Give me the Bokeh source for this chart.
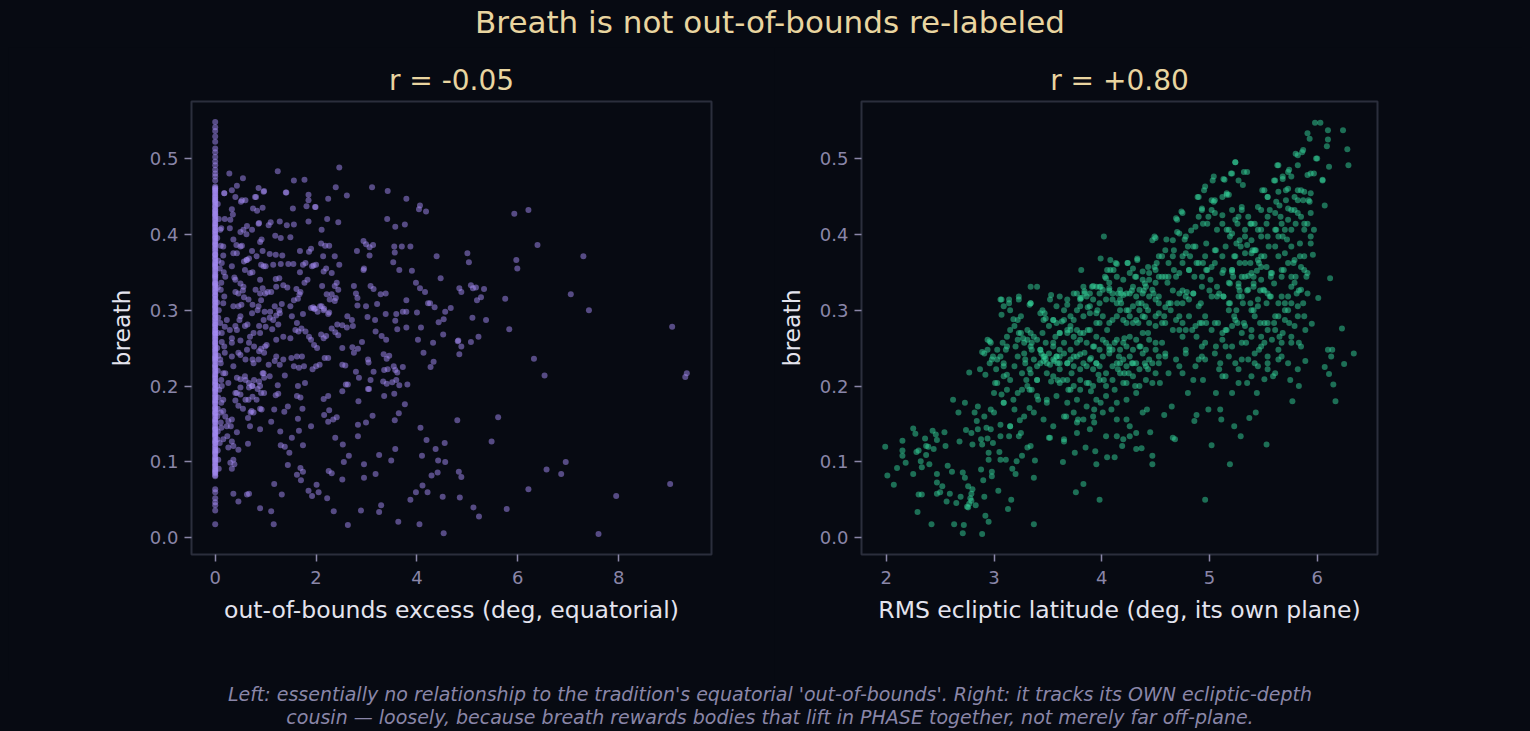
from bokeh.plotting import figure
from bokeh.layouts import column, row
from bokeh.models import Div, FixedTicker, PrintfTickFormatter, Range1d
from bokeh.embed import file_html
from bokeh.resources import INLINE

# ---- data ----
suptitle = "Breath is not out-of-bounds re-labeled"
left_title = "r = -0.05"
right_title = "r = +0.80"
left_xlabel = "out-of-bounds excess (deg, equatorial)"
right_xlabel = "RMS ecliptic latitude (deg, its own plane)"
ylabel = "breath"
footer = ["Left: essentially no relationship to the tradition's equatorial 'out-of-bounds'. Right: it tracks its OWN ecliptic-depth",
          "cousin \u2014 loosely, because breath rewards bodies that lift in PHASE together, not merely far off-plane."]

y_ticks = [0.0, 0.1, 0.2, 0.3, 0.4, 0.5]
left_x_ticks = [0, 2, 4, 6, 8]
right_x_ticks = [2, 3, 4, 5, 6]

# bodies with zero out-of-bounds excess (the bright column at x = 0)
left_column_y = [0.548, 0.541, 0.536, 0.529, 0.522, 0.513, 0.508, 0.502, 0.496, 0.491, 0.485, 0.480, 0.476, 0.471,
                 0.463, 0.461, 0.457, 0.455, 0.451, 0.448, 0.446, 0.443, 0.439, 0.437, 0.433, 0.430, 0.428, 0.425,
                 0.421, 0.419, 0.415, 0.412, 0.410, 0.406, 0.403, 0.401, 0.397, 0.394, 0.390, 0.388, 0.385, 0.381,
                 0.379, 0.374, 0.372, 0.368, 0.366, 0.362, 0.359, 0.356, 0.352, 0.350, 0.346, 0.343, 0.341, 0.336,
                 0.334, 0.331, 0.327, 0.325, 0.321, 0.318, 0.314, 0.312, 0.309, 0.305, 0.302, 0.298, 0.296, 0.293,
                 0.289, 0.287, 0.283, 0.280, 0.278, 0.274, 0.271, 0.269, 0.265, 0.263, 0.259, 0.256, 0.254, 0.250,
                 0.247, 0.245, 0.241, 0.238, 0.235, 0.232, 0.229, 0.226, 0.222, 0.220, 0.216, 0.213, 0.211, 0.207,
                 0.204, 0.201, 0.198, 0.195, 0.192, 0.188, 0.186, 0.182, 0.179, 0.176, 0.173, 0.170, 0.166, 0.164,
                 0.160, 0.157, 0.154, 0.151, 0.148, 0.144, 0.142, 0.138, 0.135, 0.132, 0.129, 0.126, 0.122, 0.120,
                 0.116, 0.113, 0.110, 0.107, 0.104, 0.101, 0.097, 0.095, 0.091, 0.088, 0.085, 0.081,
                 0.064, 0.060, 0.052, 0.047, 0.043, 0.036, 0.018,
                 0.4605, 0.4585, 0.4535, 0.4495, 0.4445, 0.4415, 0.4355, 0.4315, 0.4265, 0.4235, 0.4175, 0.4135,
                 0.4085, 0.4045, 0.3995, 0.3955, 0.3915, 0.3865, 0.3825, 0.3765, 0.3735, 0.3695, 0.3635, 0.3605,
                 0.3575, 0.3535, 0.3475, 0.3445, 0.3385, 0.3355, 0.3325, 0.3285, 0.3235, 0.3195, 0.3155, 0.3105,
                 0.3065, 0.3035, 0.2995, 0.2945, 0.2905, 0.2855, 0.2815, 0.2765, 0.2735, 0.2695, 0.2665, 0.2615,
                 0.2575, 0.2525, 0.2485, 0.2435, 0.2395, 0.2365, 0.2335, 0.2275, 0.2245, 0.2185, 0.2145, 0.2095,
                 0.2055, 0.2025, 0.1965, 0.1935, 0.1895, 0.1845, 0.1805, 0.1775, 0.1715, 0.1685, 0.1645, 0.1615,
                 0.1555, 0.1525, 0.1465, 0.1435, 0.1395, 0.1365, 0.1335, 0.1275, 0.1245, 0.1185, 0.1145, 0.1115,
                 0.1055, 0.1025, 0.0985, 0.0935, 0.0895, 0.0865, 0.0825]

left_points = [
    (4.06, 0.438), (4.04, 0.433), (4.18, 0.430), (3.79, 0.447), (3.42, 0.457), (3.11, 0.462), (2.46, 0.488),
    (5.93, 0.427), (6.21, 0.432), (6.39, 0.386), (7.30, 0.371), (5.97, 0.366), (5.99, 0.355), (5.00, 0.375),
    (5.03, 0.363), (4.39, 0.371), (4.47, 0.342), (7.05, 0.321), (7.41, 0.300), (5.75, 0.315), (5.83, 0.275),
    (9.06, 0.278), (9.35, 0.217), (9.32, 0.212), (6.32, 0.236), (6.53, 0.214), (5.61, 0.159), (5.48, 0.127),
    (6.95, 0.100), (6.57, 0.090), (6.86, 0.084), (6.21, 0.064), (9.02, 0.071), (7.95, 0.055), (5.78, 0.038),
    (7.60, 0.005), (5.12, 0.040), (5.23, 0.028), (4.85, 0.053), (4.83, 0.087), (4.88, 0.080), (4.53, 0.006),
    (4.51, 0.054), (4.41, 0.086), (4.29, 0.082), (4.56, 0.100), (4.42, 0.102), (4.37, 0.117), (4.55, 0.125),
    (4.80, 0.155), (4.19, 0.129), (4.07, 0.145), (4.10, 0.108), (4.11, 0.069), (4.21, 0.060), (3.98, 0.060),
    (3.87, 0.050), (4.05, 0.018), (3.63, 0.021), (4.82, 0.260), (4.88, 0.252), (4.84, 0.242), (5.07, 0.258),
    (5.22, 0.265), (5.10, 0.290), (5.37, 0.287), (4.52, 0.268), (4.53, 0.288), (4.43, 0.284), (4.67, 0.303),
    (4.56, 0.298), (4.35, 0.304), (4.26, 0.309), (4.22, 0.309), (4.84, 0.329), (4.88, 0.324), (5.07, 0.333),
    (5.11, 0.329), (5.19, 0.313), (5.27, 0.317), (5.33, 0.328), (5.17, 0.330), (4.16, 0.324), (4.08, 0.277),
    (4.02, 0.261), (4.13, 0.244), (4.32, 0.257), (4.33, 0.232), (4.27, 0.225), (4.00, 0.297), (3.98, 0.336),
    (4.06, 0.329), (3.90, 0.352), (3.87, 0.384), (4.81, 0.259),
    (2.61, 0.451), (2.39, 0.462), (2.24, 0.447), (2.44, 0.416), (2.22, 0.420), (2.11, 0.406), (1.99, 0.436),
    (1.85, 0.452), (1.85, 0.445), (1.81, 0.437), (1.85, 0.417), (1.77, 0.472), (1.56, 0.471), (1.40, 0.455),
    (1.54, 0.434), (1.24, 0.483), (3.57, 0.410), (3.56, 0.376), (3.55, 0.384), (3.70, 0.384), (3.76, 0.413),
    (3.41, 0.420), (2.81, 0.378), (2.94, 0.391), (2.99, 0.387), (3.06, 0.383), (3.13, 0.386), (3.06, 0.372),
    (3.53, 0.363), (3.65, 0.353), (2.95, 0.355), (2.94, 0.353), (3.08, 0.332), (3.14, 0.328), (3.28, 0.321),
    (3.38, 0.322), (2.75, 0.332), (2.79, 0.322), (2.82, 0.316), (2.82, 0.306), (2.99, 0.305), (3.21, 0.308),
    (3.38, 0.295), (3.59, 0.295), (3.72, 0.298), (3.79, 0.313), (3.79, 0.298), (3.57, 0.286), (3.61, 0.275),
    (3.79, 0.277), (3.02, 0.291), (3.17, 0.287), (3.18, 0.272), (3.30, 0.266), (3.39, 0.261), (2.62, 0.292),
    (2.71, 0.287), (2.73, 0.279), (2.61, 0.277), (2.52, 0.280), (2.46, 0.360), (2.41, 0.336), (2.37, 0.332),
    (2.44, 0.327), (2.39, 0.316), (2.31, 0.321), (2.37, 0.371), (2.31, 0.349), (2.15, 0.351), (2.10, 0.388),
    (2.18, 0.385), (2.26, 0.385), (2.14, 0.371), (2.20, 0.355), (1.95, 0.359), (1.92, 0.358), (2.00, 0.360),
    (2.12, 0.332), (2.21, 0.321), (2.27, 0.314), (2.37, 0.312), (2.11, 0.305), (1.90, 0.303), (1.96, 0.302),
    (2.15, 0.300), (2.26, 0.297), (2.31, 0.276), (2.42, 0.281), (2.38, 0.271), (2.44, 0.267), (2.52, 0.250),
    (2.72, 0.251), (2.83, 0.249), (2.91, 0.258), (2.75, 0.244), (2.79, 0.219), (2.85, 0.211), (3.08, 0.208),
    (3.14, 0.219), (3.04, 0.231), (3.03, 0.235), (3.34, 0.242), (3.45, 0.240), (3.40, 0.236), (3.35, 0.221),
    (3.42, 0.222), (3.54, 0.226), (3.61, 0.218), (3.72, 0.225), (3.57, 0.221), (3.59, 0.208), (3.33, 0.206),
    (3.40, 0.203), (3.51, 0.205), (3.65, 0.201), (3.81, 0.202), (3.55, 0.190), (3.35, 0.187), (2.52, 0.228),
    (2.58, 0.227), (2.63, 0.202), (2.59, 0.202), (2.52, 0.193), (2.84, 0.180), (3.05, 0.196), (3.03, 0.196),
    (3.76, 0.176), (3.64, 0.164), (3.56, 0.155), (3.12, 0.161), (2.99, 0.152), (2.83, 0.149), (2.83, 0.134),
    (2.53, 0.123), (2.38, 0.132), (3.25, 0.109), (3.49, 0.102), (3.57, 0.117), (2.65, 0.108), (2.55, 0.100),
    (2.95, 0.097), (2.95, 0.079), (3.18, 0.084), (2.52, 0.077), (2.35, 0.035), (2.63, 0.017), (2.89, 0.036),
    (3.25, 0.034), (3.29, 0.043), (2.25, 0.088), (2.31, 0.085), (2.41, 0.159), (2.34, 0.156), (2.24, 0.153),
    (2.26, 0.168), (2.16, 0.162), (2.15, 0.183), (2.24, 0.187), (2.05, 0.060), (2.01, 0.070), (2.22, 0.052),
    (0.28, 0.480), (0.55, 0.474), (0.43, 0.464), (0.33, 0.458), (0.18, 0.454), (0.40, 0.449), (0.60, 0.445),
    (0.51, 0.443), (0.86, 0.461), (0.97, 0.457), (0.81, 0.449), (0.75, 0.434), (0.94, 0.435), (0.83, 0.431),
    (0.87, 0.415), (0.33, 0.433), (0.35, 0.426), (0.19, 0.420), (0.29, 0.408), (0.50, 0.403), (0.63, 0.411),
    (0.73, 0.406), (0.62, 0.400), (1.10, 0.416), (1.06, 0.412), (1.28, 0.417), (1.42, 0.412), (1.56, 0.413),
    (1.30, 0.395), (1.49, 0.396), (1.19, 0.398), (0.89, 0.390), (0.73, 0.378), (0.94, 0.378), (1.08, 0.374),
    (1.20, 0.373), (1.33, 0.372), (1.00, 0.358), (0.91, 0.360), (1.15, 0.360), (1.30, 0.361), (1.45, 0.361),
    (1.55, 0.361), (1.68, 0.378), (1.86, 0.377), (1.90, 0.381), (1.79, 0.362), (1.74, 0.360), (1.68, 0.350),
    (1.83, 0.340), (1.77, 0.336), (1.61, 0.328), (1.67, 0.321), (1.56, 0.313), (1.64, 0.315), (1.69, 0.324),
    (0.36, 0.375), (0.42, 0.386), (0.50, 0.384), (0.53, 0.385), (0.57, 0.364), (0.62, 0.366), (0.67, 0.368),
    (0.74, 0.350), (0.59, 0.353), (0.17, 0.350), (0.38, 0.343), (0.50, 0.335), (0.40, 0.324), (0.55, 0.326),
    (0.57, 0.317), (0.46, 0.305), (0.52, 0.307), (0.74, 0.307), (0.89, 0.322), (0.91, 0.313), (0.84, 0.300),
    (1.04, 0.324), (1.11, 0.324), (1.21, 0.331), (1.27, 0.342), (1.20, 0.341), (1.35, 0.333), (1.43, 0.330),
    (0.80, 0.327), (0.94, 0.329), (0.98, 0.298), (1.09, 0.298), (1.18, 0.305), (1.27, 0.300), (1.32, 0.308),
    (1.08, 0.290), (1.15, 0.287), (1.21, 0.293), (1.28, 0.296), (1.49, 0.305), (1.52, 0.292), (1.62, 0.283),
    (1.71, 0.276), (1.74, 0.295), (1.94, 0.304), (1.98, 0.302), (2.03, 0.298), (2.08, 0.305), (2.16, 0.302),
    (2.24, 0.295), (1.25, 0.281), (1.13, 0.275), (1.00, 0.278), (0.87, 0.279), (0.76, 0.270), (0.64, 0.281),
    (0.48, 0.287), (0.40, 0.279), (0.29, 0.274), (0.19, 0.278), (0.33, 0.263), (0.50, 0.260), (0.67, 0.257),
    (0.77, 0.252), (0.91, 0.249), (1.02, 0.254), (1.21, 0.261), (1.35, 0.265), (1.49, 0.263), (1.59, 0.274),
    (1.65, 0.272), (1.79, 0.272), (1.86, 0.265), (1.90, 0.261), (1.96, 0.254), (2.02, 0.250), (2.10, 0.268),
    (2.15, 0.263), (2.20, 0.266), (0.19, 0.244), (0.33, 0.239), (0.50, 0.241), (0.60, 0.235), (0.74, 0.235),
    (0.87, 0.246), (0.97, 0.244), (1.06, 0.228), (1.18, 0.233), (1.35, 0.235), (1.51, 0.237), (1.62, 0.239),
    (1.72, 0.239), (1.76, 0.226), (1.66, 0.224), (1.56, 0.226), (1.28, 0.228), (1.21, 0.239), (1.93, 0.222),
    (2.00, 0.226), (2.07, 0.228), (2.17, 0.237), (2.24, 0.237), (0.12, 0.208), (0.26, 0.204), (0.43, 0.211),
    (0.60, 0.208), (0.67, 0.204), (0.74, 0.200), (0.77, 0.208), (0.87, 0.206), (0.94, 0.217), (0.97, 0.211),
    (1.08, 0.213), (0.91, 0.191), (0.74, 0.186), (0.60, 0.182), (0.43, 0.191), (0.50, 0.198), (0.67, 0.198),
    (0.84, 0.196), (0.97, 0.191), (1.24, 0.201), (1.25, 0.190), (1.20, 0.188), (1.38, 0.214), (1.64, 0.200),
    (1.62, 0.187), (1.69, 0.185), (1.78, 0.204), (1.73, 0.170), (1.64, 0.157), (1.52, 0.132), (1.66, 0.141),
    (1.74, 0.122), (1.44, 0.096), (1.69, 0.092), (1.74, 0.087), (1.62, 0.083), (1.70, 0.076), (1.90, 0.147),
    (1.85, 0.062), (1.92, 0.055), (1.17, 0.071), (1.32, 0.057), (1.11, 0.035), (0.89, 0.039), (1.16, 0.018),
    (1.11, 0.153), (1.17, 0.169), (1.37, 0.166), (1.44, 0.173), (1.29, 0.140), (1.38, 0.120), (1.47, 0.112),
    (1.30, 0.122), (0.65, 0.124), (0.70, 0.165), (0.72, 0.167), (0.65, 0.158), (0.89, 0.143), (0.89, 0.170),
    (0.55, 0.170), (0.40, 0.181), (0.50, 0.189), (0.26, 0.154), (0.31, 0.147), (0.12, 0.145), (0.24, 0.134),
    (0.33, 0.127), (0.26, 0.119), (0.46, 0.116), (0.36, 0.103), (0.38, 0.097), (0.33, 0.091), (0.07, 0.091),
    (0.36, 0.058), (0.46, 0.048), (0.63, 0.057), (0.67, 0.058),
]

# crowd just right of the zero column (x below ~1 deg)
left_halo_points = [
    (0.12, 0.408), (0.11, 0.385), (0.16, 0.372), (0.09, 0.355), (0.12, 0.336), (0.18, 0.318), (0.07, 0.300),
    (0.10, 0.283), (0.13, 0.258), (0.11, 0.230), (0.16, 0.217), (0.08, 0.195), (0.12, 0.178), (0.16, 0.167),
    (0.20, 0.160), (0.11, 0.152), (0.09, 0.125), (0.06, 0.103), (0.05, 0.440), (0.07, 0.420), (0.04, 0.395),
    (0.06, 0.365), (0.05, 0.330), (0.04, 0.310), (0.06, 0.290), (0.05, 0.270), (0.04, 0.250), (0.06, 0.240),
    (0.05, 0.220), (0.04, 0.200), (0.06, 0.185), (0.05, 0.170), (0.04, 0.160), (0.05, 0.140), (0.04, 0.130),
    (0.05, 0.115),
    (0.10, 0.406), (0.16, 0.384), (0.13, 0.362), (0.20, 0.344), (0.11, 0.327), (0.16, 0.309), (0.23, 0.287),
    (0.13, 0.270), (0.18, 0.252), (0.10, 0.235), (0.20, 0.217), (0.13, 0.200), (0.16, 0.182), (0.11, 0.165),
    (0.23, 0.147), (0.16, 0.130), (0.30, 0.419), (0.36, 0.393), (0.43, 0.375), (0.33, 0.358), (0.40, 0.340),
    (0.46, 0.322), (0.36, 0.305), (0.50, 0.292), (0.43, 0.274), (0.33, 0.257), (0.46, 0.244), (0.36, 0.226),
    (0.50, 0.209), (0.40, 0.191), (0.46, 0.174), (0.33, 0.156), (0.43, 0.139), (0.36, 0.121), (0.30, 0.099),
    (0.56, 0.406), (0.63, 0.366), (0.69, 0.349), (0.56, 0.331), (0.66, 0.314), (0.73, 0.296), (0.59, 0.279),
    (0.69, 0.265), (0.63, 0.248), (0.76, 0.230), (0.59, 0.213), (0.73, 0.200), (0.66, 0.182), (0.76, 0.165),
    (0.69, 0.147), (0.86, 0.414), (0.92, 0.393), (0.82, 0.371), (0.96, 0.358), (0.89, 0.340), (0.99, 0.322),
    (0.86, 0.305), (0.96, 0.287), (0.89, 0.270), (0.99, 0.252), (0.86, 0.235), (0.96, 0.217), (0.89, 0.200),
    (0.82, 0.182), (0.92, 0.169), (0.18, 0.454), (0.53, 0.445), (0.79, 0.449), (0.96, 0.456), (1.41, 0.455),
    (1.98, 0.436),
]

right_points = [
    (1.99, 0.120), (2.01, 0.082), (2.07, 0.070), (2.10, 0.092), (2.15, 0.128), (2.15, 0.115), (2.15, 0.108),
    (2.18, 0.099), (2.25, 0.144), (2.25, 0.084), (2.29, 0.034), (2.27, 0.137), (2.30, 0.115), (2.33, 0.093),
    (2.30, 0.057), (2.33, 0.057), (2.37, 0.121), (2.37, 0.109), (2.40, 0.097), (2.42, 0.018), (2.44, 0.117),
    (2.46, 0.136), (2.47, 0.129), (2.47, 0.084), (2.47, 0.073), (2.47, 0.058), (2.50, 0.060), (2.28, 0.113),
    (2.32, 0.101), (2.39, 0.120), (2.36, 0.131), (2.43, 0.141),
    (2.54, 0.139), (2.55, 0.121), (2.52, 0.068), (2.57, 0.095), (2.59, 0.058), (2.61, 0.087), (2.62, 0.182),
    (2.63, 0.018), (2.56, 0.048), (2.65, 0.046), (2.67, 0.165), (2.68, 0.127), (2.69, 0.054), (2.71, 0.086),
    (2.72, 0.017), (2.71, 0.006), (2.73, 0.178), (2.73, 0.079), (2.74, 0.142), (2.76, 0.040), (2.76, 0.068),
    (2.77, 0.218), (2.79, 0.049), (2.80, 0.064), (2.83, 0.043), (2.80, 0.123), (2.82, 0.165), (2.84, 0.154),
    (2.85, 0.143), (2.87, 0.222), (2.89, 0.005), (2.89, 0.245), (2.88, 0.090), (2.89, 0.123), (2.90, 0.076),
    (2.91, 0.054), (2.92, 0.029), (2.95, 0.021), (2.93, 0.145), (2.94, 0.131), (2.92, 0.215), (2.94, 0.261),
    (2.96, 0.259), (2.95, 0.103), (2.98, 0.087), (2.98, 0.081), (2.99, 0.125), (2.97, 0.169), (2.95, 0.112),
    (2.77, 0.045), (2.78, 0.052), (2.75, 0.041), (2.79, 0.058),
    (2.98, 0.235), (3.00, 0.191), (3.01, 0.204), (3.04, 0.062), (3.05, 0.113), (3.06, 0.149), (3.06, 0.103),
    (3.07, 0.314), (3.07, 0.294), (3.07, 0.189), (3.09, 0.178), (3.11, 0.248), (3.12, 0.215), (3.13, 0.038),
    (3.14, 0.309), (3.14, 0.134), (3.15, 0.147), (3.17, 0.091), (3.16, 0.050), (3.18, 0.288), (3.18, 0.182),
    (3.20, 0.084), (3.21, 0.101), (3.23, 0.270), (3.23, 0.318), (3.23, 0.134), (3.25, 0.292), (3.26, 0.108),
    (3.26, 0.195), (3.27, 0.263), (3.29, 0.235), (3.31, 0.274), (3.33, 0.307), (3.31, 0.119), (3.33, 0.222),
    (3.33, 0.171), (3.34, 0.309), (3.35, 0.257), (3.37, 0.079), (3.37, 0.018), (3.38, 0.102), (3.40, 0.331),
    (3.40, 0.208), (3.41, 0.182), (3.43, 0.248), (3.45, 0.300), (3.46, 0.233), (3.46, 0.287), (3.47, 0.296),
    (3.49, 0.178), (3.51, 0.132), (3.53, 0.320), (3.53, 0.206), (3.34, 0.331), (3.35, 0.195), (3.30, 0.208),
    (3.43, 0.230), (3.47, 0.239), (3.20, 0.252), (3.14, 0.314), (3.24, 0.155), (3.33, 0.195), (3.11, 0.103),
    (3.09, 0.230), (3.35, 0.248), (3.44, 0.243), (3.48, 0.236), (3.52, 0.228), (3.56, 0.233),
    (3.55, 0.287), (3.57, 0.265), (3.58, 0.239), (3.59, 0.230), (3.61, 0.248), (3.63, 0.285), (3.64, 0.208),
    (3.64, 0.100), (3.65, 0.127), (3.67, 0.160), (3.68, 0.270), (3.68, 0.307), (3.69, 0.195), (3.71, 0.274),
    (3.72, 0.217), (3.74, 0.287), (3.75, 0.112), (3.76, 0.060), (3.77, 0.257), (3.78, 0.156), (3.80, 0.316),
    (3.80, 0.195), (3.81, 0.353), (3.83, 0.071), (3.84, 0.322), (3.84, 0.244), (3.85, 0.119), (3.87, 0.274),
    (3.88, 0.204), (3.90, 0.237), (3.91, 0.331), (3.93, 0.152), (3.94, 0.114), (3.95, 0.097), (3.96, 0.300),
    (3.97, 0.215), (3.98, 0.050), (3.99, 0.331), (3.99, 0.178), (3.93, 0.252), (3.90, 0.193), (3.80, 0.242),
    (3.74, 0.239), (3.68, 0.230), (3.61, 0.222), (3.55, 0.257), (3.59, 0.208), (3.71, 0.195), (3.77, 0.152),
    (3.93, 0.169), (3.98, 0.283), (3.87, 0.304), (3.95, 0.230), (3.80, 0.270), (3.61, 0.270),
    (4.02, 0.397), (3.99, 0.368), (4.03, 0.344), (4.05, 0.106), (4.07, 0.326), (4.08, 0.353), (4.09, 0.169),
    (4.10, 0.287), (4.12, 0.106), (4.13, 0.362), (4.14, 0.134), (4.15, 0.322), (4.16, 0.239), (4.18, 0.309),
    (4.19, 0.121), (4.20, 0.204), (4.21, 0.263), (4.23, 0.156), (4.24, 0.362), (4.25, 0.217), (4.26, 0.134),
    (4.28, 0.326), (4.29, 0.283), (4.31, 0.200), (4.32, 0.117), (4.33, 0.368), (4.34, 0.309), (4.36, 0.252),
    (4.37, 0.118), (4.39, 0.326), (4.40, 0.291), (4.40, 0.230), (4.42, 0.169), (4.43, 0.357), (4.43, 0.270),
    (4.45, 0.139), (4.47, 0.108), (4.47, 0.097), (4.48, 0.322), (4.49, 0.397), (4.50, 0.248), (4.05, 0.274),
    (4.12, 0.195), (4.18, 0.322), (4.25, 0.300), (4.31, 0.344), (4.37, 0.309), (4.43, 0.300), (4.21, 0.217),
    (4.15, 0.222), (4.28, 0.230), (4.34, 0.283), (4.40, 0.335), (4.43, 0.222), (4.47, 0.204), (4.02, 0.208),
    (4.07, 0.248), (4.12, 0.257), (4.23, 0.283),
    (4.51, 0.362), (4.53, 0.309), (4.54, 0.204), (4.56, 0.371), (4.56, 0.283), (4.58, 0.162), (4.59, 0.239),
    (4.60, 0.393), (4.62, 0.344), (4.62, 0.217), (4.64, 0.309), (4.65, 0.173), (4.66, 0.132), (4.67, 0.379),
    (4.68, 0.130), (4.69, 0.421), (4.70, 0.403), (4.72, 0.274), (4.74, 0.430), (4.75, 0.217), (4.75, 0.326),
    (4.77, 0.393), (4.78, 0.248), (4.79, 0.324), (4.80, 0.191), (4.81, 0.353), (4.81, 0.292), (4.83, 0.405),
    (4.85, 0.208), (4.86, 0.154), (4.86, 0.344), (4.88, 0.265), (4.88, 0.162), (4.89, 0.449), (4.90, 0.423),
    (4.92, 0.309), (4.93, 0.239), (4.94, 0.362), (4.94, 0.208), (4.95, 0.458), (4.96, 0.050), (4.97, 0.388),
    (4.97, 0.283), (4.99, 0.169), (5.00, 0.326), (4.56, 0.344), (4.62, 0.362), (4.69, 0.344), (4.75, 0.371),
    (4.80, 0.384), (4.85, 0.322), (4.91, 0.283), (4.96, 0.257), (4.72, 0.292), (4.66, 0.326), (4.59, 0.304),
    (4.88, 0.362), (4.97, 0.353), (4.94, 0.414), (4.85, 0.384), (4.75, 0.309),
    (5.02, 0.122), (5.03, 0.471), (5.05, 0.445), (5.06, 0.191), (5.06, 0.379), (5.07, 0.318), (5.08, 0.283),
    (5.10, 0.169), (5.11, 0.156), (5.12, 0.213), (5.13, 0.353), (5.14, 0.472), (5.15, 0.252), (5.16, 0.452),
    (5.16, 0.406), (5.18, 0.300), (5.19, 0.097), (5.20, 0.480), (5.21, 0.191), (5.22, 0.344), (5.23, 0.147),
    (5.24, 0.495), (5.25, 0.388), (5.26, 0.283), (5.27, 0.222), (5.28, 0.326), (5.29, 0.134), (5.30, 0.436),
    (5.32, 0.482), (5.33, 0.362), (5.34, 0.257), (5.35, 0.204), (5.37, 0.158), (5.38, 0.414), (5.38, 0.309),
    (5.40, 0.379), (5.41, 0.335), (5.42, 0.230), (5.43, 0.165), (5.44, 0.191), (5.45, 0.436), (5.46, 0.362),
    (5.47, 0.283), (5.48, 0.397), (5.49, 0.458), (5.06, 0.252), (5.13, 0.318), (5.19, 0.335), (5.23, 0.371),
    (5.27, 0.335), (5.30, 0.318), (5.35, 0.326), (5.41, 0.344), (5.47, 0.326), (5.19, 0.397), (5.29, 0.384),
    (5.38, 0.362), (5.10, 0.230), (5.16, 0.274), (5.23, 0.292), (5.32, 0.283), (5.41, 0.300), (5.46, 0.248),
    (5.26, 0.414), (5.33, 0.397), (5.43, 0.379), (5.48, 0.371), (5.21, 0.350), (5.36, 0.345), (5.44, 0.352),
    (5.51, 0.326), (5.53, 0.123), (5.54, 0.449), (5.54, 0.230), (5.55, 0.384), (5.57, 0.349), (5.59, 0.213),
    (5.60, 0.471), (5.61, 0.292), (5.62, 0.406), (5.63, 0.491), (5.64, 0.371), (5.65, 0.265), (5.66, 0.423),
    (5.67, 0.318), (5.68, 0.476), (5.69, 0.353), (5.71, 0.458), (5.72, 0.393), (5.73, 0.300), (5.74, 0.485),
    (5.75, 0.208), (5.76, 0.331), (5.76, 0.432), (5.77, 0.180), (5.78, 0.362), (5.80, 0.414), (5.80, 0.506),
    (5.81, 0.322), (5.82, 0.445), (5.83, 0.257), (5.83, 0.200), (5.84, 0.371), (5.85, 0.458), (5.86, 0.508),
    (5.87, 0.309), (5.88, 0.406), (5.89, 0.233), (5.89, 0.274), (5.90, 0.344), (5.91, 0.533), (5.92, 0.445),
    (5.93, 0.526), (5.94, 0.480), (5.94, 0.397), (5.95, 0.282), (5.96, 0.373), (5.98, 0.547), (5.99, 0.500),
    (5.60, 0.283), (5.67, 0.344), (5.70, 0.309), (5.73, 0.362), (5.76, 0.384), (5.64, 0.397), (5.57, 0.318),
    (5.54, 0.283), (5.51, 0.257), (5.67, 0.239), (5.80, 0.344), (5.83, 0.326), (5.60, 0.335), (5.70, 0.406),
    (6.01, 0.316), (6.03, 0.547), (6.05, 0.472), (6.07, 0.438), (6.09, 0.516), (6.10, 0.525), (6.10, 0.537),
    (6.11, 0.489), (6.12, 0.342), (6.10, 0.248), (6.14, 0.248), (6.13, 0.239), (6.07, 0.225), (6.11, 0.216),
    (6.15, 0.202), (6.17, 0.180), (6.23, 0.276), (6.24, 0.537), (6.25, 0.229), (6.28, 0.512), (6.29, 0.491),
    (6.34, 0.243),
]

# second pass over the crowded middle of the right panel
right_dense_points = [
    (4.08, 0.366), (4.11, 0.353), (4.14, 0.361), (4.05, 0.353), (4.29, 0.355), (4.33, 0.366), (4.32, 0.344),
    (4.24, 0.362), (4.38, 0.351), (4.44, 0.340), (4.49, 0.357), (4.53, 0.344), (4.50, 0.395), (4.47, 0.392),
    (4.04, 0.342), (4.07, 0.329), (3.98, 0.331), (3.92, 0.332), (4.17, 0.327), (4.20, 0.320), (4.26, 0.322),
    (4.32, 0.318), (4.38, 0.322), (4.44, 0.318), (4.50, 0.314), (4.41, 0.305), (4.35, 0.300), (4.29, 0.305),
    (4.23, 0.300), (4.17, 0.300), (4.14, 0.309), (4.10, 0.314), (3.81, 0.316), (3.84, 0.325), (3.80, 0.305),
    (3.89, 0.305), (3.95, 0.296), (3.98, 0.309), (4.01, 0.292), (4.07, 0.283), (4.14, 0.292), (4.20, 0.287),
    (4.26, 0.292), (4.32, 0.287), (4.38, 0.292), (4.44, 0.283), (4.50, 0.279), (4.53, 0.296), (3.58, 0.283),
    (3.65, 0.287), (3.71, 0.279), (3.77, 0.274), (3.83, 0.270), (3.89, 0.274), (3.95, 0.265), (4.01, 0.261),
    (4.07, 0.252), (4.14, 0.261), (4.20, 0.257), (4.26, 0.265), (4.32, 0.261), (4.38, 0.270), (4.44, 0.261),
    (4.50, 0.257), (3.43, 0.248), (3.46, 0.239), (3.49, 0.230), (3.58, 0.239), (3.61, 0.230), (3.65, 0.243),
    (3.71, 0.235), (3.77, 0.239), (3.83, 0.230), (3.89, 0.235), (3.95, 0.230), (4.01, 0.239), (4.07, 0.243),
    (4.14, 0.230), (4.20, 0.235), (4.26, 0.239), (4.32, 0.230), (4.38, 0.243), (4.44, 0.235), (4.53, 0.239),
    (3.19, 0.279), (3.25, 0.270), (3.31, 0.261), (3.37, 0.265), (3.34, 0.252), (3.28, 0.243), (3.22, 0.239),
    (3.12, 0.252), (3.06, 0.239), (3.03, 0.235), (3.09, 0.226), (2.97, 0.257), (2.94, 0.248), (2.91, 0.243),
    (3.09, 0.305), (3.15, 0.300), (3.23, 0.314), (3.34, 0.309), (3.43, 0.296), (3.48, 0.289), (3.55, 0.287),
    (3.06, 0.314), (3.22, 0.287), (3.34, 0.217), (3.40, 0.208), (3.49, 0.217), (3.55, 0.213), (3.61, 0.204),
    (3.68, 0.208), (3.74, 0.200), (3.80, 0.208), (3.86, 0.204), (3.92, 0.200), (3.98, 0.208), (4.04, 0.200),
    (4.10, 0.208), (4.17, 0.217), (4.23, 0.204), (4.29, 0.213), (4.35, 0.200), (4.41, 0.208), (4.50, 0.217),
    (3.03, 0.204), (3.12, 0.195), (3.22, 0.191), (3.31, 0.200), (3.40, 0.187), (3.49, 0.182), (3.58, 0.187),
    (3.68, 0.178), (3.77, 0.182), (3.86, 0.173), (3.95, 0.182), (4.04, 0.187), (4.14, 0.178), (4.23, 0.182),
    (4.32, 0.191), (2.85, 0.173), (2.91, 0.160), (3.00, 0.165), (3.09, 0.178), (3.19, 0.169), (3.28, 0.160),
    (3.37, 0.165), (3.46, 0.156), (3.55, 0.147), (3.65, 0.160), (3.74, 0.165), (3.83, 0.156), (3.92, 0.160),
    (4.01, 0.165), (4.14, 0.156), (4.26, 0.147), (4.38, 0.165), (2.79, 0.138), (2.88, 0.130), (2.97, 0.143),
    (3.06, 0.134), (3.15, 0.147), (3.25, 0.138), (3.34, 0.121), (3.52, 0.132), (3.65, 0.130), (3.77, 0.138),
    (3.89, 0.143), (4.04, 0.134), (4.20, 0.130), (4.32, 0.138),
    (5.82, 0.504), (5.87, 0.511), (6.00, 0.500), (5.64, 0.491), (5.73, 0.482), (5.82, 0.491), (5.24, 0.495),
    (5.35, 0.482), (5.21, 0.480), (5.13, 0.473), (5.04, 0.476), (4.96, 0.463), (4.90, 0.449), (5.02, 0.445),
    (5.12, 0.449), (5.18, 0.452), (5.27, 0.471), (5.31, 0.465), (5.51, 0.458), (5.61, 0.471), (5.68, 0.473),
    (5.76, 0.476), (5.91, 0.478), (5.97, 0.480), (6.05, 0.471), (5.64, 0.456), (5.73, 0.460), (5.82, 0.458),
    (5.88, 0.456), (5.94, 0.454), (5.54, 0.449), (5.62, 0.443), (5.71, 0.445), (5.79, 0.449), (5.87, 0.445),
    (5.93, 0.443), (4.66, 0.392), (4.72, 0.401), (4.78, 0.397), (4.75, 0.428), (4.70, 0.419), (4.87, 0.410),
    (4.93, 0.432), (4.99, 0.423), (5.05, 0.428), (5.12, 0.414), (5.18, 0.406), (5.24, 0.419), (5.30, 0.432),
    (5.36, 0.423), (5.42, 0.414), (5.48, 0.432), (5.54, 0.423), (5.61, 0.428), (5.67, 0.414), (5.73, 0.419),
    (5.79, 0.432), (5.85, 0.423), (5.91, 0.414), (5.97, 0.406), (5.48, 0.406), (5.54, 0.397), (5.39, 0.392),
    (4.53, 0.371), (4.59, 0.379), (4.66, 0.371), (4.78, 0.375), (4.87, 0.384), (4.96, 0.371), (5.05, 0.379),
    (5.15, 0.384), (5.24, 0.371), (5.33, 0.375), (5.42, 0.379), (5.51, 0.371), (5.61, 0.384), (5.70, 0.375),
    (5.79, 0.366), (5.88, 0.371), (5.94, 0.388), (4.50, 0.353), (4.59, 0.344), (4.72, 0.349), (4.81, 0.353),
    (4.93, 0.344), (5.02, 0.357), (5.12, 0.349), (5.21, 0.353), (5.30, 0.344), (5.39, 0.349), (5.48, 0.357),
    (5.58, 0.349), (5.67, 0.353), (5.76, 0.344), (5.85, 0.357), (5.91, 0.349), (4.53, 0.318), (4.62, 0.309),
    (4.72, 0.322), (4.81, 0.314), (4.90, 0.305), (5.02, 0.318), (5.09, 0.322), (5.18, 0.309), (5.27, 0.318),
    (5.36, 0.327), (5.45, 0.314), (5.54, 0.322), (5.64, 0.309), (5.73, 0.318), (5.82, 0.305), (5.91, 0.322),
    (4.50, 0.292), (4.59, 0.283), (4.69, 0.287), (4.78, 0.274), (4.87, 0.279), (4.96, 0.292), (5.05, 0.283),
    (5.15, 0.274), (5.24, 0.287), (5.33, 0.279), (5.42, 0.292), (5.51, 0.283), (5.61, 0.274), (5.70, 0.287),
    (5.79, 0.279), (5.88, 0.292), (4.56, 0.257), (4.75, 0.265), (4.93, 0.252), (5.12, 0.261), (5.21, 0.252),
    (5.30, 0.257), (5.39, 0.265), (5.48, 0.252), (5.58, 0.261), (5.67, 0.257), (5.76, 0.265), (5.85, 0.252),
    (4.53, 0.230), (4.72, 0.226), (4.90, 0.235), (5.09, 0.222), (5.24, 0.230), (5.36, 0.235), (5.45, 0.226),
    (5.54, 0.222), (5.64, 0.235), (5.73, 0.230), (5.82, 0.222),
]

# third pass: the brightest knots of the right-hand cloud
right_knot_points = [
    (5.16, 0.454), (5.04, 0.443), (4.93, 0.434), (4.98, 0.414), (5.07, 0.406), (5.21, 0.401), (5.28, 0.392),
    (5.35, 0.386), (5.39, 0.375), (5.45, 0.366), (5.53, 0.357), (5.57, 0.344), (5.48, 0.340), (5.41, 0.331),
    (5.50, 0.327), (5.56, 0.318), (5.53, 0.309), (5.45, 0.305), (5.39, 0.300), (5.31, 0.309), (5.25, 0.300),
    (5.19, 0.309), (5.13, 0.318), (5.07, 0.331), (5.01, 0.340), (4.93, 0.331), (4.85, 0.322), (4.78, 0.318),
    (4.70, 0.309), (4.64, 0.300), (4.58, 0.292), (5.18, 0.336), (5.27, 0.331), (5.33, 0.344), (5.28, 0.362),
    (5.21, 0.353), (5.12, 0.371), (5.05, 0.362), (4.98, 0.353), (4.90, 0.362), (4.82, 0.371), (4.75, 0.362),
    (4.67, 0.353), (4.61, 0.336), (5.54, 0.274), (5.48, 0.265), (5.39, 0.274), (5.30, 0.270), (5.21, 0.279),
    (5.12, 0.270), (5.02, 0.274), (4.93, 0.283), (4.84, 0.274), (4.75, 0.283), (4.66, 0.274), (5.64, 0.292),
    (5.70, 0.300), (5.76, 0.309), (5.82, 0.292), (5.74, 0.283), (5.68, 0.270), (5.76, 0.257), (5.64, 0.248),
    (5.54, 0.239), (5.42, 0.243), (5.30, 0.235), (5.18, 0.239), (5.05, 0.243), (4.96, 0.235), (4.87, 0.226),
    (4.78, 0.243), (4.69, 0.235), (4.59, 0.243), (5.39, 0.213), (5.51, 0.209), (5.61, 0.217), (5.27, 0.204),
    (5.15, 0.213), (5.79, 0.336), (5.85, 0.327), (5.88, 0.353), (5.84, 0.388), (5.76, 0.406), (5.68, 0.397),
    (5.61, 0.406), (5.53, 0.414), (5.45, 0.406), (5.39, 0.414), (5.33, 0.406), (5.27, 0.423), (5.21, 0.432),
    (5.12, 0.425), (5.02, 0.432), (5.56, 0.432), (5.65, 0.438), (5.73, 0.434), (5.82, 0.428), (5.88, 0.414),
    (5.94, 0.428),
    (3.45, 0.270), (3.51, 0.279), (3.61, 0.270), (3.68, 0.274), (3.74, 0.265), (3.80, 0.261), (3.86, 0.257),
    (3.92, 0.252), (3.98, 0.248), (4.04, 0.257), (4.10, 0.248), (4.17, 0.248), (4.23, 0.252), (4.29, 0.248),
    (4.35, 0.252), (4.41, 0.248), (3.48, 0.257), (3.55, 0.252), (3.65, 0.257), (3.71, 0.248), (3.51, 0.243),
    (3.55, 0.235), (3.61, 0.239), (3.68, 0.230), (3.74, 0.226), (3.80, 0.222), (3.86, 0.226), (3.92, 0.222),
    (3.98, 0.226), (4.04, 0.217), (4.10, 0.226), (4.17, 0.230), (4.23, 0.226), (4.29, 0.230), (4.35, 0.222),
    (4.41, 0.226), (4.47, 0.230), (3.37, 0.235), (3.40, 0.226), (3.29, 0.230), (3.26, 0.217), (3.19, 0.226),
    (3.15, 0.208), (3.09, 0.213), (3.02, 0.222), (2.96, 0.230), (2.99, 0.239), (3.03, 0.248), (3.08, 0.257),
    (3.12, 0.265), (3.15, 0.274), (3.22, 0.261), (3.28, 0.257), (3.34, 0.270), (3.40, 0.261), (3.65, 0.300),
    (3.71, 0.292), (3.77, 0.300), (3.83, 0.292), (3.89, 0.296), (3.95, 0.283), (3.58, 0.305), (3.52, 0.314),
    (3.61, 0.318), (3.68, 0.314), (3.74, 0.322), (3.80, 0.314), (3.86, 0.318), (3.92, 0.314), (3.98, 0.322),
    (4.04, 0.314), (4.10, 0.322), (4.17, 0.314), (4.23, 0.322), (4.29, 0.331), (4.35, 0.327), (4.41, 0.331),
    (4.47, 0.327), (4.50, 0.336), (4.20, 0.340), (4.14, 0.344), (4.26, 0.349), (4.38, 0.340), (4.44, 0.349),
    (3.89, 0.322), (3.95, 0.331), (4.01, 0.327), (4.07, 0.336), (3.83, 0.331), (3.77, 0.322),
]

# ---- style ----
BG = "#070a12"
FRAME = "#2b2e3c"
TICK = "#8a86a8"
LABEL = "#e4e4ee"
GOLD = "#e9d5a0"
PURPLE = "#a58cf5"
GREEN = "#34d399"
FONT = "DejaVu Sans"


def make_panel(title, xlabel, xs, ys, color, x_range, x_ticks, width, left, right):
    p = figure(width=width, height=634, x_range=x_range, y_range=Range1d(-0.022, 0.575),
               output_backend="svg", toolbar_location=None,
               min_border_left=left, min_border_right=right, min_border_top=54, min_border_bottom=127)
    p.background_fill_color = BG
    p.border_fill_color = BG
    p.outline_line_color = FRAME
    p.outline_line_width = 2
    p.grid.visible = False

    p.title.text = title
    p.title.align = "center"
    p.title.text_font = FONT
    p.title.text_font_size = "28px"
    p.title.text_font_style = "normal"
    p.title.text_color = GOLD
    p.title.standoff = 10

    p.scatter(xs, ys, size=6, fill_color=color, fill_alpha=0.5, line_color=None)

    p.xaxis.ticker = FixedTicker(ticks=x_ticks)
    p.xaxis.formatter = PrintfTickFormatter(format="%d")
    p.yaxis.ticker = FixedTicker(ticks=y_ticks)
    p.yaxis.formatter = PrintfTickFormatter(format="%.1f")
    p.xaxis.axis_label = xlabel
    p.yaxis.axis_label = ylabel
    for ax in (p.xaxis, p.yaxis):
        ax.axis_line_color = None
        ax.major_tick_line_color = TICK
        ax.major_tick_line_width = 1.5
        ax.major_tick_out = 7
        ax.major_tick_in = 0
        ax.minor_tick_line_color = None
        ax.major_label_text_font = FONT
        ax.major_label_text_font_size = "18px"
        ax.major_label_text_color = TICK
        ax.axis_label_text_font = FONT
        ax.axis_label_text_font_size = "23.5px"
        ax.axis_label_text_font_style = "normal"
        ax.axis_label_text_color = LABEL
    p.xaxis.major_label_standoff = 9
    p.xaxis.axis_label_standoff = 9
    p.yaxis.major_label_standoff = 6
    p.yaxis.axis_label_standoff = 11
    return p


all_left = left_points + left_halo_points
lx = [0.0] * len(left_column_y) + [pt[0] for pt in all_left]
ly = list(left_column_y) + [pt[1] for pt in all_left]
all_right = right_points + right_dense_points + right_knot_points
rx = [pt[0] for pt in all_right]
ry = [pt[1] for pt in all_right]

p1 = make_panel(left_title, left_xlabel, lx, ly, PURPLE, Range1d(-0.47, 9.84), left_x_ticks, 766, 183, 63)
p2 = make_panel(right_title, right_xlabel, rx, ry, GREEN, Range1d(1.77, 6.56), right_x_ticks, 748, 83, 145)

head = Div(width=1514, height=29,
           text=('<div style="width:1514px;text-align:center;font-family:\'DejaVu Sans\';font-size:31px;'
                 'line-height:31px;color:%s;position:relative;top:-6px;white-space:nowrap">%s</div>'
                 % (GOLD, suptitle)))
foot = Div(width=1514, height=46,
           text=('<div style="width:1514px;text-align:center;font-family:\'DejaVu Sans\';font-style:italic;'
                 'font-size:19px;line-height:23px;color:#8a86a8;position:relative;top:-3px;white-space:nowrap">'
                 + footer[0] + '<br>' + footer[1] + '</div>'))

layout = column(head, row(p1, p2), foot)

html = file_html(layout, INLINE)
html = html.replace("</head>", "<style>html,body{background:%s;overflow:hidden;margin:0}body{margin:8px}</style></head>" % BG)
open("out.html", "w").write(html)
